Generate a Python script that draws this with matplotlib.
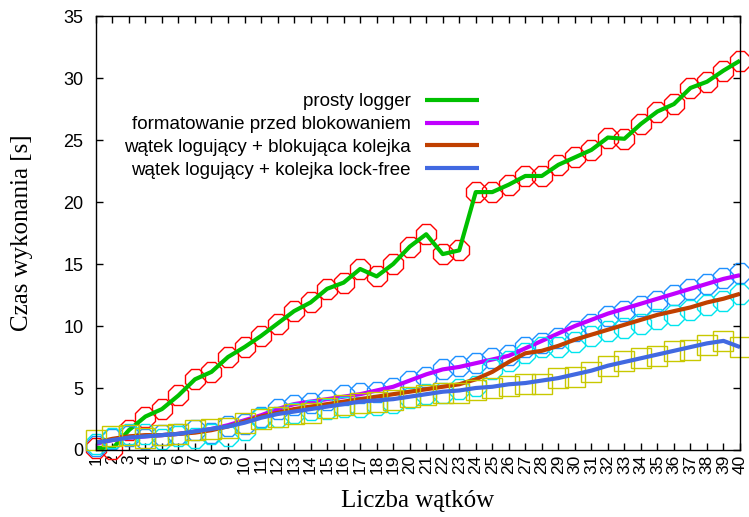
import matplotlib.pyplot as plt
import numpy as np

threads = list(range(1, 41))

# prosty logger (red circles + green line)
prosty = [0.2, 0.1, 1.6, 2.7, 3.3, 4.4, 5.7, 6.3, 7.5, 8.3,
          9.2, 10.2, 11.2, 11.9, 13.0, 13.5, 14.6, 14.0, 15.0, 16.4,
          17.4, 15.8, 16.1, 20.8, 20.8, 21.4, 22.1, 22.1, 23.0, 23.6,
          24.2, 25.2, 25.1, 26.3, 27.3, 27.9, 29.2, 29.7, 30.6, 31.4]

# formatowanie przed blokowaniem
format_pts = [0.3, 0.9, 1.1, 0.9, 1.2, 1.3, 1.6, 1.4, 1.9, 2.1,
              2.7, 3.3, 3.6, 3.8, 4.0, 4.4, 4.6, 4.7, 5.0, 5.6,
              5.9, 6.5, 6.8, 7.0, 7.4, 7.7, 8.3, 8.6, 9.0, 9.6,
              10.2, 10.8, 11.2, 11.6, 12.0, 12.5, 13.0, 13.4, 13.9, 14.3]
format_line = [0.5, 0.8, 1.0, 1.1, 1.2, 1.3, 1.5, 1.7, 2.0, 2.4,
               2.8, 3.3, 3.7, 3.9, 4.1, 4.3, 4.5, 4.8, 5.1, 5.6,
               6.1, 6.5, 6.7, 7.0, 7.3, 7.6, 8.2, 8.8, 9.4, 10.0,
               10.5, 11.0, 11.4, 11.8, 12.2, 12.6, 13.0, 13.4, 13.8, 14.1]

# watek logujacy + blokujaca kolejka
block_pts = [0.5, 1.0, 1.3, 1.3, 0.9, 1.1, 1.0, 1.3, 1.1, 1.6,
             2.6, 2.7, 3.0, 3.2, 3.3, 3.5, 3.5, 3.6, 3.8, 4.2,
             4.5, 4.6, 4.9, 5.2, 6.5, 7.2, 7.8, 8.3, 8.3, 8.7,
             9.2, 9.6, 9.8, 10.2, 10.6, 10.9, 11.3, 11.7, 12.0, 12.6]
block_line = [0.6, 0.9, 1.1, 1.2, 1.2, 1.3, 1.4, 1.6, 1.9, 2.3,
              2.7, 3.0, 3.3, 3.5, 3.7, 3.9, 4.1, 4.3, 4.5, 4.7,
              4.9, 5.1, 5.3, 5.7, 6.3, 7.1, 7.8, 8.0, 8.4, 8.9,
              9.3, 9.7, 10.1, 10.5, 10.9, 11.2, 11.5, 11.9, 12.2, 12.6]

# watek logujacy + kolejka lock-free
lockfree_pts = [0.8, 1.1, 1.2, 1.0, 1.2, 1.3, 1.6, 1.7, 1.8, 2.2,
                2.5, 2.7, 2.9, 3.0, 3.4, 3.6, 3.8, 3.9, 4.0, 4.3,
                4.4, 4.6, 4.6, 4.8, 5.0, 5.2, 5.3, 5.3, 5.8, 5.9,
                6.3, 6.8, 7.2, 7.4, 7.6, 8.0, 8.1, 8.5, 8.8, 8.3]
lockfree_line = [0.6, 0.8, 1.0, 1.1, 1.2, 1.3, 1.5, 1.7, 1.9, 2.2,
                 2.6, 2.9, 3.1, 3.3, 3.5, 3.7, 3.9, 4.0, 4.1, 4.3,
                 4.5, 4.7, 4.8, 5.0, 5.1, 5.3, 5.4, 5.6, 5.8, 6.1,
                 6.4, 6.8, 7.1, 7.4, 7.7, 8.0, 8.3, 8.6, 8.8, 8.3]

labels = ["prosty logger", "formatowanie przed blokowaniem",
          "wątek logujący + blokująca kolejka", "wątek logujący + kolejka lock-free"]

plt.rcParams['font.family'] = ['Liberation Sans', 'DejaVu Sans']

fig = plt.figure(figsize=(7.49, 5.17), dpi=100)
ax = fig.add_axes([0.128, 0.1296, 0.86, 0.8394])

series = [
    (prosty, prosty, '8', '#ff0000', '#00c000'),
    (format_pts, format_line, '8', '#1e90ff', '#c000ff'),
    (block_pts, block_line, '8', '#00e5ee', '#c04000'),
    (lockfree_pts, lockfree_line, 's', '#c8c800', '#4169e1'),
]
for (pts, line, mk, mcol, lcol), lab in zip(series, labels):
    ax.plot(threads, pts, linestyle='none', marker=mk, markersize=16 if mk == '8' else 14,
            markerfacecolor='none', markeredgecolor=mcol, markeredgewidth=1.0, clip_on=False)
    ax.plot(threads, line, color=lcol, linewidth=3, label=lab, solid_capstyle='butt')

ax.set_xlim(1, 40)
ax.set_ylim(0, 35)
ax.set_xticks(threads)
ax.set_xticklabels([str(t) for t in threads], rotation=90, fontsize=12.5)
ax.set_yticks(range(0, 36, 5))
ax.tick_params(axis='y', labelsize=13, pad=9)
ax.tick_params(direction='in', length=5, width=1, top=True, right=True, color='black')
for s in ax.spines.values():
    s.set_linewidth(1.0)

ax.set_xlabel("Liczba wątków", family='Liberation Serif', fontsize=18, labelpad=11)
ax.set_ylabel("Czas wykonania [s]", family='Liberation Serif', fontsize=18, labelpad=22)

leg = ax.legend(loc='upper right', bbox_to_anchor=(0.595, 0.822), frameon=False, markerfirst=False,
                fontsize=13.5, handlelength=2.9, handletextpad=0.75, labelspacing=0.3,
                borderpad=0, borderaxespad=0)

fig.savefig("out.png", dpi=100)
